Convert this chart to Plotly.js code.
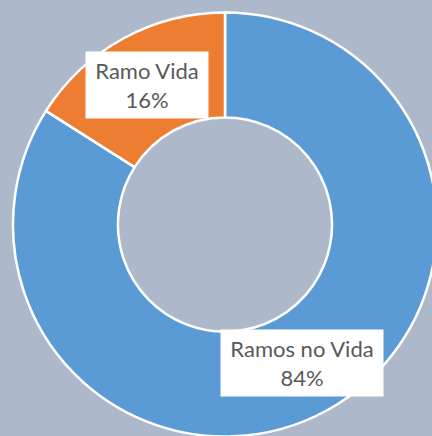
<!DOCTYPE html>
<html><head><meta charset="utf-8">
<script src="https://cdn.plot.ly/plotly-3.0.1.min.js"></script>
<style>html,body{margin:0;padding:0;overflow:hidden;background:#ADB9CA;}</style>
</head><body>
<div id="chart"></div>
<script>
const labels = ["Ramos no Vida", "Ramo Vida"];
const values = [84, 16];
const colors = ["#5B9BD5", "#ED7D31"];

const W = 460, H = 460;
const cx = 225, cy = 224.5, R = 212;
const total = values.reduce((a, b) => a + b, 0);
const pct = values.map(v => Math.round(v / total * 100));

// label box centers in pixels (as placed in reference)
const boxPos = [[301.5, 363], [147, 85]];
const boxSize = [[158, 62], [118, 62]];

const annotations = labels.map((l, i) => ({
  x: boxPos[i][0] / W, y: 1 - boxPos[i][1] / H,
  xref: "paper", yref: "paper", xanchor: "center", yanchor: "middle",
  text: l + "<br>" + pct[i] + "%",
  showarrow: false, bgcolor: "#FFFFFF", borderpad: 2,
  width: boxSize[i][0], height: boxSize[i][1],
  font: {family: "Lato, 'Open Sans', sans-serif", size: 22, color: "#595959"}
}));

Plotly.newPlot("chart", [{
  type: "pie", labels: labels, values: values, hole: 0.505,
  sort: false, direction: "clockwise", rotation: 0,
  marker: {colors: colors, line: {color: "#FFFFFF", width: 2.5}},
  textinfo: "none", hoverinfo: "label+percent",
  domain: {x: [(cx - R) / W, (cx + R) / W], y: [(H - cy - R) / H, (H - cy + R) / H]}
}], {
  width: W, height: H, showlegend: false,
  margin: {l: 0, r: 0, t: 0, b: 0},
  paper_bgcolor: "#ADB9CA", plot_bgcolor: "#ADB9CA",
  annotations: annotations
}, {staticPlot: true});
</script>
</body></html>
